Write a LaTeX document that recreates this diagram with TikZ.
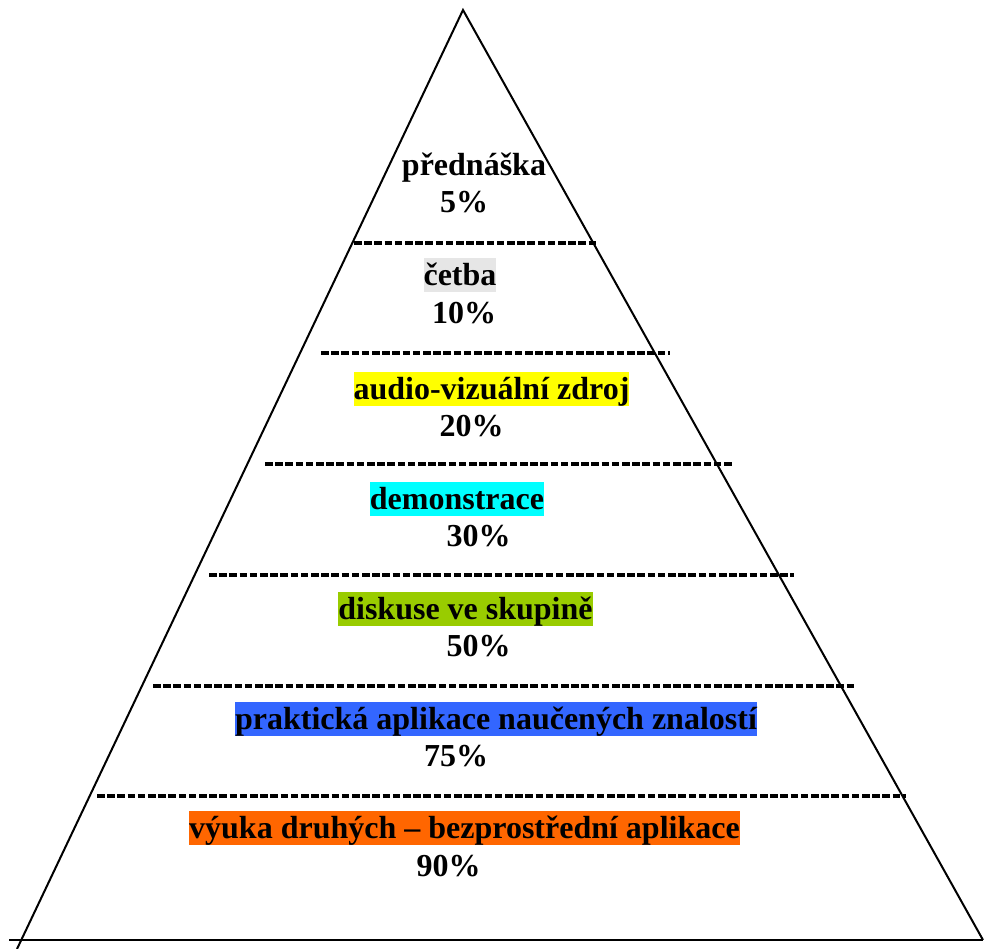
\documentclass[tikz,border=0pt]{standalone}
\usepackage{fontspec}
\setmainfont{Liberation Serif}
\definecolor{hlgray}{HTML}{E6E6E6}
\definecolor{hlyellow}{HTML}{FFFF00}
\definecolor{hlcyan}{HTML}{00FFFF}
\definecolor{hlgreen}{HTML}{99CC00}
\definecolor{hlblue}{HTML}{3366FF}
\definecolor{hlorange}{HTML}{FF6600}
\tikzset{
  lbl/.style={font=\fontsize{32}{37}\selectfont\bfseries, inner xsep=0pt, inner ysep=0pt,
    text height=27.5pt, text depth=7pt},
  sep/.style={line width=3.4pt, dash pattern=on 7.6pt off 2.6pt},
  edge/.style={line width=2pt}
}
\begin{document}
\begin{tikzpicture}[x=1pt,y=-1pt]
\useasboundingbox (0,0) rectangle (984,949);
% triangle
\coordinate (apex) at (463,10);
\coordinate (bl) at (17,949);
\coordinate (br) at (983,940);
\coordinate (b0) at (9,940);
\draw[edge] (bl) -- (apex) -- (br);
\draw[edge] (b0) -- (br);
% separators
\coordinate (s1a) at (354,243); \coordinate (s1b) at (598,243);
\coordinate (s2a) at (321,353); \coordinate (s2b) at (670,353);
\coordinate (s3a) at (265,464); \coordinate (s3b) at (733,464);
\coordinate (s4a) at (209,575); \coordinate (s4b) at (794,575);
\coordinate (s5a) at (153,686); \coordinate (s5b) at (855,686);
\coordinate (s6a) at (97,796);  \coordinate (s6b) at (906,796);
\draw[sep] (s1a) -- (s1b);
\draw[sep] (s2a) -- (s2b);
\draw[sep] (s3a) -- (s3b);
\draw[sep] (s4a) -- (s4b);
\draw[sep] (s5a) -- (s5b);
\draw[sep] (s6a) -- (s6b);
% labels
\node[lbl] (t1) at (474,165.5) {přednáška};
\node[lbl] (p1) at (464,202.5) {5\%};
\node[lbl, fill=hlgray] (t2) at (460,275) {četba};
\node[lbl] (p2) at (464,313.5) {10\%};
\node[lbl, fill=hlyellow] (t3) at (491.5,389) {audio-vizuální zdroj};
\node[lbl] (p3) at (471.5,426) {20\%};
\node[lbl, fill=hlcyan] (t4) at (457,499) {demonstrace};
\node[lbl] (p4) at (478.5,536) {30\%};
\node[lbl, fill=hlgreen] (t5) at (465.5,609) {diskuse ve skupině};
\node[lbl] (p5) at (478.5,646) {50\%};
\node[lbl, fill=hlblue] (t6) at (496,719) {praktická aplikace naučených znalostí};
\node[lbl] (p6) at (456,756) {75\%};
\node[lbl, fill=hlorange] (t7) at (464.5,828) {výuka druhých -- bezprostřední aplikace};
\node[lbl] (p7) at (448.5,866) {90\%};
\end{tikzpicture}
\end{document}
